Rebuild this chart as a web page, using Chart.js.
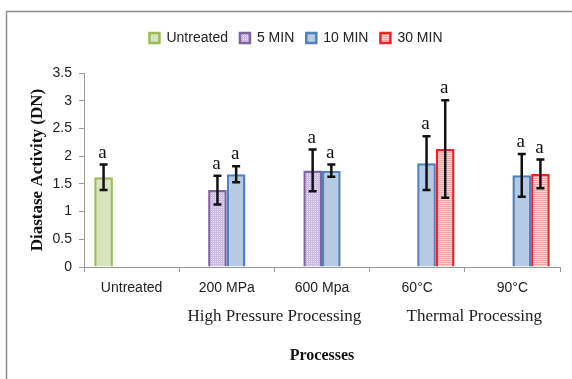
<!DOCTYPE html>
<html>
<head>
<meta charset="utf-8">
<script src="https://cdn.jsdelivr.net/npm/chart.js@4"></script>
<style>
  html, body { margin: 0; padding: 0; background: #fff; }
  #wrap { width: 572px; height: 379px; }
</style>
</head>
<body>
<div id="wrap"><canvas id="grafico" width="572" height="379"></canvas></div>
<script>
// datos
const categorias = ["Untreated", "200 MPa", "600 Mpa", "60°C", "90°C"];
const series     = ["Untreated", "5 MIN", "10 MIN", "30 MIN"];

const valUntreated = [1.62, null, null, null, null];
const val5min      = [null, 1.39, 1.745, null, null];
const val10min     = [null, 1.675, 1.74, 1.875, 1.655];
const val30min     = [null, null, null, 2.13, 1.68];

const errUntreated = [0.23, null, null, null, null];
const err5min      = [null, 0.26, 0.375, null, null];
const err10min     = [null, 0.145, 0.11, 0.485, 0.385];
const err30min     = [null, null, null, 0.88, 0.26];

const letras = ["a", "a", "a", "a", "a"];

const grupos = [
  { texto: "High Pressure Processing", centro: 1.5 },
  { texto: "Thermal Processing", centro: 3.6 }
];

function patron(fondo, linea, tipo) {
  const c = document.createElement("canvas");
  c.width = 4; c.height = 4;
  const g = c.getContext("2d");
  g.fillStyle = fondo;
  g.fillRect(0, 0, 4, 4);
  g.fillStyle = linea;
  if (tipo === "cuadros") {
    g.fillRect(0, 0, 4, 1);
    g.fillRect(0, 2, 4, 1);
    g.fillRect(0, 0, 1, 4);
    g.fillRect(2, 0, 1, 4);
  } else if (tipo === "rayas") {
    g.fillRect(0, 0, 4, 1);
    g.fillRect(0, 2, 4, 1);
  }
  return g.createPattern(c, "repeat");
}

const ctx = document.getElementById("grafico").getContext("2d");

const errores = [errUntreated, err5min, err10min, err30min];

const pluginMarco = {
  id: "marco",
  beforeDraw(chart) {
    const g = chart.ctx;
    g.save();
    g.fillStyle = "#fff";
    g.fillRect(0, 0, chart.width, chart.height);
    g.strokeStyle = "#8a8a8a";
    g.lineWidth = 1.5;
    g.beginPath();
    g.moveTo(6.5, chart.height);
    g.lineTo(6.5, 11.5);
    g.lineTo(chart.width, 11.5);
    g.stroke();
    g.restore();
  }
};

const pluginErrores = {
  id: "errores",
  afterDatasetsDraw(chart) {
    const g = chart.ctx;
    const y = chart.scales.y;
    g.save();
    g.strokeStyle = "#111";
    g.lineWidth = 2.5;
    g.fillStyle = "#111";
    g.font = "19px 'Liberation Serif'";
    g.textAlign = "center";
    g.textBaseline = "alphabetic";
    chart.data.datasets.forEach((ds, d) => {
      const meta = chart.getDatasetMeta(d);
      ds.data.forEach((v, i) => {
        if (v === null) return;
        const e = errores[d][i];
        const x = meta.data[i].x;
        const yArr = y.getPixelForValue(v + e);
        const yAba = y.getPixelForValue(v - e);
        g.beginPath();
        g.moveTo(x, yArr); g.lineTo(x, yAba);
        g.moveTo(x - 4, yArr); g.lineTo(x + 4, yArr);
        g.moveTo(x - 4, yAba); g.lineTo(x + 4, yAba);
        g.stroke();
        g.fillText(letras[i], x - 1, yArr - 7);
      });
    });
    g.restore();
  }
};

const pluginGrupos = {
  id: "grupos",
  afterDraw(chart) {
    const g = chart.ctx;
    const x = chart.scales.x;
    g.save();
    g.fillStyle = "#222";
    g.font = "17px 'Liberation Serif'";
    g.textAlign = "center";
    g.textBaseline = "middle";
    grupos.forEach(gr => {
      g.fillText(gr.texto, x.getPixelForValue(gr.centro), 317);
    });
    g.restore();
  }
};

new Chart(ctx, {
  type: "bar",
  data: {
    labels: categorias,
    datasets: [
      { label: series[0], data: valUntreated, backgroundColor: "#d7e4bd", borderColor: "#9bbb59", borderWidth: 2.5 },
      { label: series[1], data: val5min, backgroundColor: patron("#e6def0", "#cbbbdf", "cuadros"), borderColor: "#8064a2", borderWidth: 2.5 },
      { label: series[2], data: val10min, backgroundColor: "#b6cae3", borderColor: "#4f81bd", borderWidth: 2.5 },
      { label: series[3], data: val30min, backgroundColor: patron("#f9d2d2", "#f2a3a3", "rayas"), borderColor: "#e8262a", borderWidth: 2.5 }
    ]
  },
  options: {
    responsive: false,
    animation: false,
    categoryPercentage: 0.785,
    barPercentage: 1,
    layout: { padding: { left: 32, right: 12, top: 19, bottom: 10 } },
    plugins: {
      legend: {
        position: "top",
        labels: {
          boxWidth: 10, boxHeight: 10, padding: 12,
          color: "#222",
          font: { family: "'Liberation Sans'", size: 14 }
        }
      },
      // separador vacio entre leyenda y grafico
      subtitle: {
        display: true, text: "", weight: 500,
        font: { size: 1 }, padding: { top: 0, bottom: 17 }
      },
      tooltip: { enabled: false }
    },
    scales: {
      y: {
        min: 0, max: 3.5,
        afterFit: s => { s.width = 52; },
        ticks: {
          stepSize: 0.5, padding: 7, color: "#222",
          font: { family: "'Liberation Sans'", size: 14 },
          callback: v => String(Number(v.toFixed(1)))
        },
        grid: { drawOnChartArea: false, tickLength: 5, color: "#9a9a9a" },
        border: { color: "#9a9a9a", width: 1 },
        title: {
          display: true, text: "Diastase Activity (DN)", color: "#111",
          font: { family: "'Liberation Serif'", size: 17, weight: "bold" },
          padding: { top: -5, bottom: 0 }
        }
      },
      x: {
        afterFit: s => { s.height = 102; },
        ticks: { padding: 8, color: "#222", font: { family: "'Liberation Sans'", size: 14 } },
        grid: { drawOnChartArea: false, offset: true, tickLength: 5, color: "#9a9a9a" },
        border: { color: "#9a9a9a", width: 1 },
        title: {
          display: true, text: "Processes", color: "#111",
          font: { family: "'Liberation Serif'", size: 16, weight: "bold" },
          padding: { top: 0, bottom: 4 }
        }
      }
    }
  },
  plugins: [pluginMarco, pluginErrores, pluginGrupos]
});
</script>
</body>
</html>
